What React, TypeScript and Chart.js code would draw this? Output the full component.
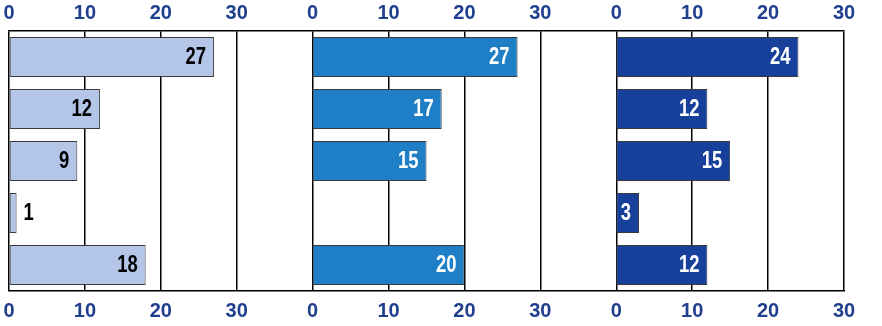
import React, { useEffect, useRef } from "react";
import { Chart, registerables } from "chart.js";

Chart.register(...registerables);

// ---- data ----
const ROWS = ["1", "2", "3", "4", "5"];
const SERIES_A = [27, 12, 9, 1, 18];
const SERIES_B = [27, 17, 15, null, 20];
const SERIES_C = [24, 12, 15, 3, 12];
const TICK_VALUES = [0, 10, 20, 30];
const PANEL_SPAN = 40; // each panel occupies 40 units on the shared axis
const PANEL_MAX = 30;

const COLORS = ["#b4c6e7", "#1f7fc6", "#16409a"];
const LABEL_COLORS = ["#000000", "#ffffff", "#ffffff"];
const LABEL_FONT = 'bold 23px "Liberation Sans", Arial, sans-serif';
const LABEL_SQUEEZE = 0.8;
const TICK_COLOR = "#203f8c";
const LABEL_PAD = 8;

const ALL_SERIES = [SERIES_A, SERIES_B, SERIES_C];

const barLabelPlugin = {
  id: "barLabels",
  afterDatasetsDraw(chart: any) {
    const ctx = chart.ctx;
    ALL_SERIES.forEach((values, i) => {
      const meta = chart.getDatasetMeta(i);
      meta.data.forEach((el: any, j: number) => {
        const v = values[j];
        if (v == null) return;
        const { x, y, base } = el.getProps(["x", "y", "base"], true);
        const text = String(v);
        ctx.save();
        ctx.font = LABEL_FONT;
        ctx.textBaseline = "middle";
        const w = ctx.measureText(text).width * LABEL_SQUEEZE;
        const inside = w + LABEL_PAD + 2 < x - base;
        let tx: number;
        if (inside) {
          ctx.textAlign = "right";
          ctx.fillStyle = LABEL_COLORS[i];
          tx = x - LABEL_PAD;
        } else {
          ctx.textAlign = "left";
          ctx.fillStyle = "#000000";
          tx = x + LABEL_PAD - 1;
        }
        ctx.translate(tx, y + 1);
        ctx.scale(LABEL_SQUEEZE, 1);
        ctx.fillText(text, 0, 0);
        ctx.restore();
      });
    });
  },
};

export default function App() {
  const ref = useRef<HTMLCanvasElement | null>(null);

  useEffect(() => {
    if (!ref.current) return;
    const nPanels = ALL_SERIES.length;
    const axisMax = PANEL_SPAN * (nPanels - 1) + PANEL_MAX;
    const tickList: number[] = [];
    for (let p = 0; p < nPanels; p++) {
      TICK_VALUES.forEach((t) => tickList.push(p * PANEL_SPAN + t));
    }
    const tickLabel = (v: number) => {
      const r = v % PANEL_SPAN;
      return TICK_VALUES.includes(r) ? String(r) : "";
    };
    const tickFont = { family: '"Liberation Sans", Arial, sans-serif', size: 20, weight: "bold" as const };

    const datasets = ALL_SERIES.map((values, i) => ({
      label: "Series " + (i + 1),
      data: values.map((v) => (v == null ? null : [i * PANEL_SPAN, i * PANEL_SPAN + v])),
      backgroundColor: COLORS[i],
      borderColor: "#3a3a3a",
      borderWidth: 1,
      borderSkipped: false,
      grouped: false,
      categoryPercentage: 1,
      barPercentage: 0.77,
      xAxisID: "x",
    }));

    const chart = new Chart(ref.current, {
      type: "bar",
      data: { labels: ROWS, datasets: datasets as any },
      options: {
        indexAxis: "y",
        animation: false,
        responsive: false,
        layout: { padding: { left: 9, right: 38, top: 0, bottom: 0 } },
        plugins: { legend: { display: false }, tooltip: { enabled: false } },
        scales: {
          y: { display: false },
          x: {
            position: "top",
            min: 0,
            max: axisMax,
            afterBuildTicks: (scale: any) => {
              scale.ticks = tickList.map((v) => ({ value: v }));
            },
            afterFit: (scale: any) => {
              scale.height = 31;
              scale.paddingLeft = 0;
              scale.paddingRight = 0;
            },
            grid: { color: "#000000", lineWidth: 1.5, drawTicks: false },
            border: { display: true, color: "#000000", width: 1.5 },
            ticks: {
              autoSkip: false,
              maxRotation: 0,
              padding: 6,
              color: TICK_COLOR,
              font: tickFont,
              callback: (v: any) => tickLabel(Number(v)),
            },
          },
          x2: {
            type: "linear",
            position: "bottom",
            min: 0,
            max: axisMax,
            afterBuildTicks: (scale: any) => {
              scale.ticks = tickList.map((v) => ({ value: v }));
            },
            afterFit: (scale: any) => {
              scale.height = 35;
              scale.paddingLeft = 0;
              scale.paddingRight = 0;
            },
            grid: { display: false, drawTicks: false },
            border: { display: true, color: "#000000", width: 1.5 },
            ticks: {
              autoSkip: false,
              maxRotation: 0,
              padding: 8,
              color: TICK_COLOR,
              font: tickFont,
              callback: (v: any) => tickLabel(Number(v)),
            },
          },
        },
      },
      plugins: [barLabelPlugin],
    });
    return () => chart.destroy();
  }, []);

  return (
    <div style={{ position: "absolute", left: 0, top: 0, width: 882, height: 326, background: "#fff" }}>
      <canvas ref={ref} width={882} height={326} style={{ display: "block" }} />
    </div>
  );
}
